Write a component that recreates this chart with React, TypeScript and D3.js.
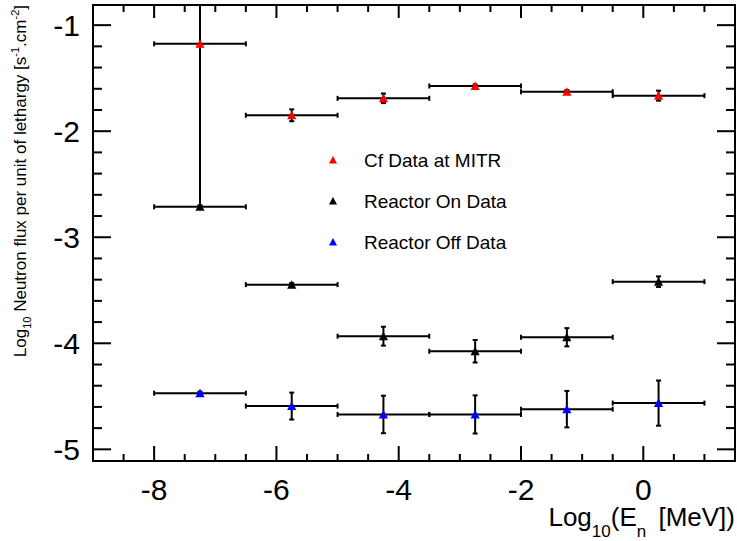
import React from "react";
import * as d3 from "d3";

const binEdges = [-8, -6.5, -5, -3.5, -2, -0.5, 1];
const binCenters = [-7.25, -5.75, -4.25, -2.75, -1.25, 0.25];

const cfValues = [-1.176, -1.85, -1.69, -1.574, -1.628, -1.665];
const cfErrLow = [1.537, 0.056, 0.045, 0.015, 0.015, 0.047];
const cfErrHigh = [1.6, 0.056, 0.045, 0.015, 0.015, 0.047];

const onValues = [-2.713, -3.447, -3.933, -4.075, -3.943, -3.419];
const onErr = [0.015, 0.015, 0.089, 0.106, 0.086, 0.05];

const offValues = [-4.47, -4.592, -4.671, -4.671, -4.621, -4.564];
const offErr = [0.015, 0.127, 0.177, 0.18, 0.172, 0.213];

const xMajorTicks = [-8, -6, -4, -2, 0];
const yMajorTicks = [-1, -2, -3, -4, -5];

const legendItems = [
  { label: "Cf Data at MITR", color: "#ff0000" },
  { label: "Reactor On Data", color: "#000000" },
  { label: "Reactor Off Data", color: "#0000ff" },
];

const FONT = "'Liberation Sans', Arial, Helvetica, sans-serif";

const W = 737;
const H = 541;
const L = 93;
const R = 735;
const T = 5;
const B = 461;

export default function App() {
  const x = d3.scaleLinear().domain([-9, 1.5]).range([L, R]);
  const y = d3.scaleLinear().domain([-5.11, -0.81]).range([B, T]);

  const xMinor = d3.range(-9, 1.5001, 0.5).filter((v) => Math.abs(v / 2 - Math.round(v / 2)) > 1e-6);
  const yMinor = d3.range(-5, -0.8, 0.2).map((v) => Math.round(v * 10) / 10).filter((v) => Math.abs(v - Math.round(v)) > 1e-6);

  const series = [
    { values: cfValues, lo: cfErrLow, hi: cfErrHigh, color: "#ff0000" },
    { values: onValues, lo: onErr, hi: onErr, color: "#000000" },
    { values: offValues, lo: offErr, hi: offErr, color: "#0000ff" },
  ];

  const tri = (cx: number, cy: number) =>
    `M${cx},${cy - 4.5} L${cx + 4.6},${cy + 4} L${cx - 4.6},${cy + 4} Z`;

  return (
    <svg
      width={W}
      height={H}
      style={{ position: "absolute", left: 0, top: 0, background: "#fff" }}
      fontFamily={FONT}
    >
      <defs>
        <clipPath id="frameClip">
          <rect x={L} y={T} width={R - L} height={B - T} />
        </clipPath>
      </defs>
      <rect x={0} y={0} width={W} height={H} fill="#fff" />

      {/* ticks */}
      <g stroke="#000" strokeWidth={2}>
        {xMajorTicks.map((v) => (
          <g key={"xM" + v}>
            <line x1={x(v)} x2={x(v)} y1={B} y2={B - 15} />
            <line x1={x(v)} x2={x(v)} y1={T} y2={T + 13} />
          </g>
        ))}
        {xMinor.map((v) => (
          <g key={"xm" + v}>
            <line x1={x(v)} x2={x(v)} y1={B} y2={B - 7} />
            <line x1={x(v)} x2={x(v)} y1={T} y2={T + 7} />
          </g>
        ))}
        {yMajorTicks.map((v) => (
          <g key={"yM" + v}>
            <line x1={L} x2={L + 18} y1={y(v)} y2={y(v)} />
            <line x1={R} x2={R - 18} y1={y(v)} y2={y(v)} />
          </g>
        ))}
        {yMinor.map((v) => (
          <g key={"ym" + v}>
            <line x1={L} x2={L + 9} y1={y(v)} y2={y(v)} />
            <line x1={R} x2={R - 9} y1={y(v)} y2={y(v)} />
          </g>
        ))}
      </g>

      {/* tick labels */}
      <g fontSize={30} fill="#000">
        {xMajorTicks.map((v) => (
          <text key={"xl" + v} x={x(v)} y={500} textAnchor="middle">
            {v === 0 ? "0" : "-" + Math.abs(v)}
          </text>
        ))}
        {yMajorTicks.map((v) => (
          <text key={"yl" + v} x={80} y={y(v) + 11} textAnchor="end">
            {"-" + Math.abs(v)}
          </text>
        ))}
      </g>

      {/* data */}
      <g clipPath="url(#frameClip)">
        {series.map((s, si) => (
          <g key={"s" + si} stroke="#000" strokeWidth={2}>
            {s.values.map((v, i) => {
              const cx = x(binCenters[i]);
              const cy = y(v);
              const x0 = x(binEdges[i]);
              const x1 = x(binEdges[i + 1]);
              const yl = y(v - s.lo[i]);
              const yh = y(v + s.hi[i]);
              return (
                <g key={i}>
                  <line x1={x0} x2={x1} y1={cy} y2={cy} />
                  <line x1={x0} x2={x0} y1={cy - 2.5} y2={cy + 2.5} />
                  <line x1={x1} x2={x1} y1={cy - 2.5} y2={cy + 2.5} />
                  <line x1={cx} x2={cx} y1={yl} y2={yh} />
                  <line x1={cx - 2.5} x2={cx + 2.5} y1={yl} y2={yl} />
                  <line x1={cx - 2.5} x2={cx + 2.5} y1={yh} y2={yh} />
                </g>
              );
            })}
          </g>
        ))}
        {series.map((s, si) => (
          <g key={"m" + si} fill={s.color}>
            {s.values.map((v, i) => (
              <path key={i} d={tri(x(binCenters[i]), y(v))} />
            ))}
          </g>
        ))}
      </g>

      {/* frame */}
      <rect x={L} y={T} width={R - L} height={B - T} fill="none" stroke="#000" strokeWidth={2} />

      {/* legend */}
      {legendItems.map((it, i) => {
        const ly = 160 + i * 41;
        return (
          <g key={"lg" + i}>
            <path d={`M333,${ly - 4} L337,${ly + 3.5} L329,${ly + 3.5} Z`} fill={it.color} />
            <text x={364} y={ly + 7} fontSize={19} fill="#000">
              {it.label}
            </text>
          </g>
        );
      })}

      {/* x title */}
      <text x={735} y={526} fontSize={26} textAnchor="end" fill="#000">
        Log
        <tspan fontSize={17} dy={11}>10</tspan>
        <tspan dy={-11}>(E</tspan>
        <tspan fontSize={17} dy={11}>n</tspan>
        <tspan dy={-11} dx={5}> [MeV])</tspan>
      </text>

      {/* y title */}
      <text
        transform={`translate(26,${T}) rotate(-90)`}
        x={0}
        y={0}
        fontSize={17}
        textAnchor="end"
        fill="#000"
      >
        Log
        <tspan fontSize={11} dy={5}>10</tspan>
        <tspan dy={-5}> Neutron flux per unit of lethargy [s</tspan>
        <tspan fontSize={11} dy={-7}>-1</tspan>
        <tspan dy={7}>.cm</tspan>
        <tspan fontSize={11} dy={-7}>-2</tspan>
        <tspan dy={7}>]</tspan>
      </text>
    </svg>
  );
}
